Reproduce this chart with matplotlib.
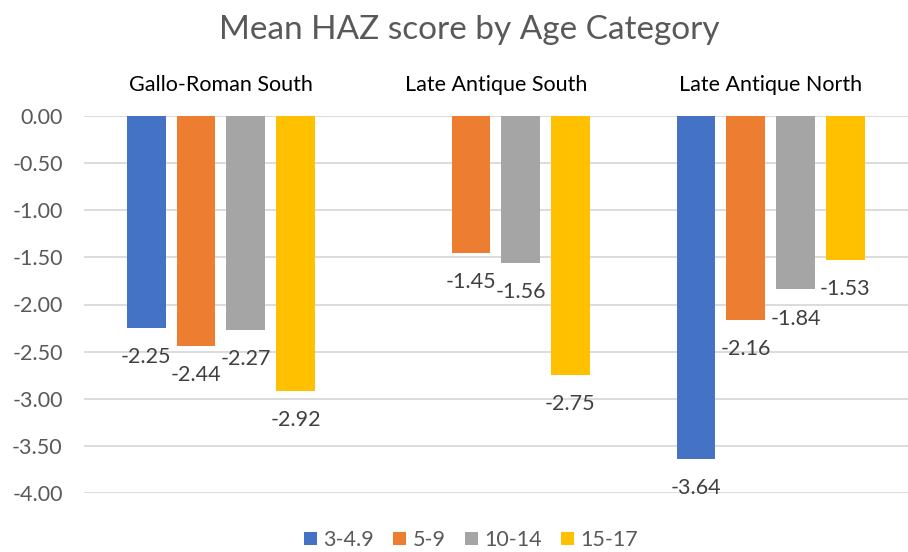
import numpy as np
import matplotlib
matplotlib.use('agg')
import matplotlib.pyplot as plt
from matplotlib.patches import Patch

plt.rcParams['font.family'] = ['Lato', 'DejaVu Sans']

categories = ["Gallo-Roman South", "Late Antique South", "Late Antique North"]
age_groups = ["3-4.9", "5-9", "10-14", "15-17"]
haz_3_4 = [-2.25, np.nan, -3.64]
haz_5_9 = [-2.44, -1.45, -2.16]
haz_10_14 = [-2.27, -1.56, -1.84]
haz_15_17 = [-2.92, -2.75, -1.53]
y_ticks = [0.0, -0.5, -1.0, -1.5, -2.0, -2.5, -3.0, -3.5, -4.0]

series = [haz_3_4, haz_5_9, haz_10_14, haz_15_17]
colors = ["#4472C4", "#ED7D31", "#A5A5A5", "#FFC000"]

fig = plt.figure(figsize=(9.08, 5.52), dpi=100)
ax = fig.add_axes([83.5 / 908, 1 - 493 / 552, 1 - 83.5 / 908, (493 - 116) / 552])

x = np.arange(len(categories))
slot = 0.181
width = 0.141
for i, (vals, col) in enumerate(zip(series, colors)):
    pos = x + (i - 1.5) * slot
    vals = np.array(vals, dtype=float)
    ok = ~np.isnan(vals)
    ax.bar(pos[ok], vals[ok], width=width, color=col, zorder=3)
    for px, v in zip(pos[ok], vals[ok]):
        ax.annotate("%.2f" % v, (px, v), xytext=(0, -21),
                    textcoords="offset points", ha="center", va="center",
                    fontsize=15.5, color="#404040")

ax.set_xlim(-0.5, 2.5)
ax.set_ylim(-4.0, 0.0)
ax.set_yticks(y_ticks)
ax.set_yticklabels(["%.2f" % t for t in y_ticks])
ax.yaxis.grid(True, color="#D9D9D9", linewidth=1.3, zorder=0)
ax.xaxis.tick_top()
ax.set_xticks(x)
ax.set_xticklabels(categories, fontsize=15.5, color="#000000")
ax.tick_params(axis="x", length=0, pad=15)
ax.tick_params(axis="y", length=0, pad=15, labelsize=15.5, labelcolor="#595959")
for s in ax.spines.values():
    s.set_visible(False)

fig.text(469 / 908, 1 - 30 / 552, "Mean HAZ score by Age Category", ha="center",
         va="center", fontsize=24, color="#595959")

handles = [Patch(facecolor=c, edgecolor="none") for c in colors]
fig.legend(handles, age_groups, loc="center", ncol=4,
           bbox_to_anchor=(471 / 908, 1 - 540 / 552), frameon=False,
           fontsize=15.5, labelcolor="#595959", handlelength=0.6,
           handleheight=0.6, handletextpad=0.3, columnspacing=0.9)

fig.savefig("out.png", dpi=100)
